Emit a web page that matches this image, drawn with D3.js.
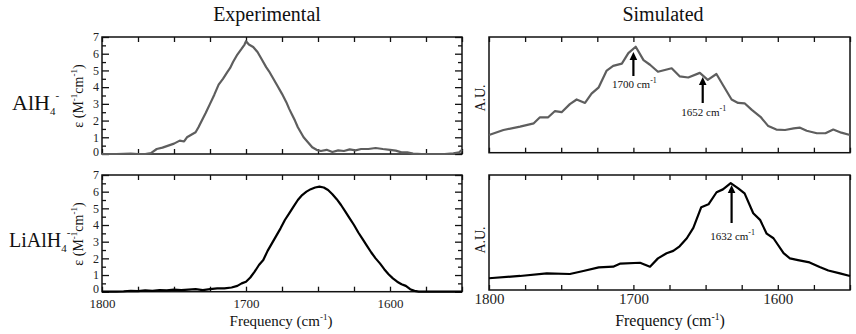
<!DOCTYPE html>
<html><head><meta charset="utf-8">
<script src="https://cdn.jsdelivr.net/npm/d3@7"></script>
<style>
html,body{margin:0;padding:0;background:#fff;}
svg{display:block;}
svg text{font-family:"Liberation Serif","DejaVu Serif",serif;}
</style></head>
<body><svg id="c" width="856" height="334"></svg>
<script>
// ---------- data ----------
const xTicks = [1800, 1700, 1600];
const expYTicks = [0,1,2,3,4,5,6,7];

const expAlH4Freq = [1800,1790,1780,1775,1770,1766,1762,1758,1754,1750,1746,1743,1741,1738,1735,1733,1731,1728,1725,1722,1719,1716,1713,1711,1709,1706,1703,1701,1700,1698,1695,1692,1689,1686,1684,1681,1678,1675,1672,1670,1668,1666,1664,1662,1660,1657,1654,1651,1648,1644,1640,1636,1632,1628,1624,1620,1615,1610,1605,1600,1596,1592,1588,1584,1578,1570,1562,1556,1552,1550];
const expAlH4Val  = [0,0,0.03,0,0,0.05,0.3,0.38,0.5,0.62,0.8,0.75,1.0,1.15,1.3,1.6,1.95,2.45,3.0,3.55,4.15,4.5,4.9,5.15,5.5,5.95,6.3,6.55,6.75,6.55,6.4,6.1,5.65,5.2,4.95,4.5,4.05,3.6,3.1,2.7,2.35,2.0,1.6,1.3,1.0,0.7,0.4,0.25,0.18,0.25,0.12,0.22,0.18,0.28,0.22,0.3,0.3,0.36,0.3,0.25,0.2,0.1,0.1,0.02,0,0,0,0.04,0.1,0.25];

const expLiFreq = [1800,1790,1785,1780,1775,1770,1765,1760,1755,1750,1745,1740,1735,1730,1725,1720,1715,1710,1706,1703,1700,1697,1694,1691,1688,1685,1682,1679,1676,1673,1670,1667,1664,1661,1658,1655,1652,1649,1646,1643,1640,1637,1634,1631,1628,1625,1622,1619,1616,1613,1610,1607,1604,1601,1598,1595,1592,1589,1586,1583,1580,1550];
const expLiVal  = [0,0,0.02,0.05,0.03,0.08,0.05,0.1,0.08,0.12,0.1,0.13,0.15,0.1,0.15,0.2,0.2,0.25,0.35,0.5,0.6,0.85,1.2,1.6,1.9,2.45,2.9,3.35,3.8,4.3,4.7,5.1,5.5,5.8,6.0,6.15,6.25,6.3,6.25,6.1,5.85,5.55,5.2,4.8,4.4,4.0,3.55,3.15,2.75,2.35,2.0,1.7,1.35,1.05,0.8,0.6,0.45,0.35,0.15,0.05,0,0];

const simAlH4Freq = [1800,1790,1778.5,1769,1764.7,1759,1754.3,1749.7,1744,1739.3,1733.5,1729,1724,1718.5,1714,1708,1703.5,1698.4,1693,1688.5,1683,1673.5,1668,1662,1654,1648.5,1642.5,1638,1632,1627.5,1623,1618,1612,1606.6,1601,1595,1589,1584.6,1580,1573,1567,1561.6,1556,1550];
const simAlH4Val  = [1.53,1.96,2.25,2.54,3.06,3.06,3.6,3.5,4.2,4.6,4.3,5.1,5.65,7.1,7.5,7.7,8.6,9.16,8.0,7.6,7.0,7.3,6.6,6.5,6.9,6.3,6.8,5.85,4.6,4.3,4.27,3.7,3.1,2.3,2.0,1.96,2.1,2.16,1.9,1.68,1.68,2.0,1.73,1.53];

const simLiFreq = [1800,1778.5,1760,1744,1734.7,1724,1714,1709,1695.4,1688.5,1683,1677,1672.4,1668,1663,1658.5,1653,1648,1642.4,1638,1632.6,1627.4,1623,1617,1612.3,1607.7,1603,1596,1591.6,1586,1578,1571,1565,1557,1550];
const simLiVal  = [1.02,1.22,1.45,1.39,1.65,1.97,2.03,2.3,2.37,2.03,2.75,3.2,3.4,3.8,4.5,5.4,7.2,7.45,8.5,8.75,9.3,8.84,8.4,6.67,6.1,4.9,4.5,3.2,2.75,2.6,2.4,2.0,1.7,1.45,1.22];

const simAlH4Peaks = [{f:1700, label:"1700"}, {f:1652, label:"1652"}];
const simLiPeaks = [{f:1632, label:"1632"}];

// ---------- drawing ----------
const svg = d3.select("#c");
const serif = '"Liberation Serif","DejaVu Serif",serif';

function panel(o){
  const g = svg.append("g");
  const x = d3.scaleLinear().domain([1800,1550]).range([o.x0,o.x1]);
  const y = d3.scaleLinear().domain(o.yDomain).range([o.y1,o.y0]);
  const minor = d3.range(1800,1549,-25);
  g.append("g").attr("transform",`translate(0,${o.y1})`).call(d3.axisBottom(x).tickValues(minor).tickSize(-5).tickFormat(""));
  g.append("g").attr("transform",`translate(0,${o.y0})`).call(d3.axisTop(x).tickValues(minor).tickSize(-5).tickFormat(""));
  if(o.yTicks){
    const halfs = d3.range(0.5,7,1);
    g.append("g").attr("class","ylab").attr("transform",`translate(${o.x0},0)`).call(d3.axisLeft(y).tickValues(o.yTicks).tickSize(-7).tickPadding(3).tickFormat(d3.format("d")));
    g.append("g").attr("transform",`translate(${o.x0},0)`).call(d3.axisLeft(y).tickValues(halfs).tickSize(-4).tickFormat(""));
    g.append("g").attr("transform",`translate(${o.x1},0)`).call(d3.axisRight(y).tickValues(o.yTicks).tickSize(-7).tickFormat(""));
    g.append("g").attr("transform",`translate(${o.x1},0)`).call(d3.axisRight(y).tickValues(halfs).tickSize(-4).tickFormat(""));
  }
  if(o.xLabels){
    g.append("g").attr("class","xlab").attr("transform",`translate(0,${o.y1})`)
      .call(d3.axisBottom(x).tickValues(xTicks).tickSize(0).tickPadding(o.xLabPad).tickFormat(d3.format("d")));
  }
  g.selectAll(".domain").remove();
  g.selectAll("g").attr("font-family",serif);
  g.selectAll(".tick line").attr("stroke","#111").attr("stroke-width",1.3);
  g.selectAll(".tick text").attr("font-family",serif).attr("fill","#222");
  g.selectAll(".ylab text").attr("font-size",12);
  g.selectAll(".ylab .tick text").filter(d=>d===0).attr("dy","0.1em");
  g.selectAll(".xlab text").attr("font-size",o.xLabSize);
  g.append("rect").attr("x",o.x0).attr("y",o.y0).attr("width",o.x1-o.x0).attr("height",o.y1-o.y0)
    .attr("fill","none").attr("stroke","#111").attr("stroke-width",1.5);
  const pts = o.freq.map((f,i)=>[f,o.val[i]]);
  g.append("path").datum(pts)
    .attr("d", d3.line().x(d=>x(d[0])).y(d=>y(d[1])))
    .attr("fill","none").attr("stroke",o.color).attr("stroke-width",2.2).attr("stroke-linejoin","round");
  return {g,x,y};
}

const tl = panel({x0:102,x1:462,y0:37,y1:154,yDomain:[0,7],yTicks:expYTicks,freq:expAlH4Freq,val:expAlH4Val,color:"#5e5e5e"});
const bl = panel({x0:102,x1:462,y0:175,y1:291.7,yDomain:[0,7],yTicks:expYTicks,freq:expLiFreq,val:expLiVal,color:"#000",xLabels:true,xLabSize:13,xLabPad:7});
const tr = panel({x0:489,x1:850,y0:37,y1:152.7,yDomain:[0,10],freq:simAlH4Freq,val:simAlH4Val,color:"#5e5e5e"});
const br = panel({x0:489,x1:850,y0:175,y1:290,yDomain:[0,10],freq:simLiFreq,val:simLiVal,color:"#000",xLabels:true,xLabSize:15,xLabPad:3});

function arrows(p, peaks, specs){
  peaks.forEach((pk,i)=>{
    const s = specs[i];
    const ax = p.x(pk.f);
    p.g.append("line").attr("x1",ax).attr("x2",ax).attr("y1",s.y2).attr("y2",s.y1+6)
      .attr("stroke","#000").attr("stroke-width",2.2);
    p.g.append("path").attr("d",`M${ax},${s.y1} L${ax+3.8},${s.y1+8} L${ax-3.8},${s.y1+8} Z`).attr("fill","#000");
    const t = p.g.append("text").attr("x",ax+1).attr("y",s.ty).attr("text-anchor","middle")
      .attr("font-size",11).attr("font-family",serif).attr("fill","#111");
    t.append("tspan").text(pk.label+" cm");
    t.append("tspan").attr("dy",-5).attr("font-size",8).text("-1");
  });
}
arrows(tr, simAlH4Peaks, [{y1:52,y2:76,ty:88},{y1:77,y2:103,ty:116}]);
arrows(br, simLiPeaks, [{y1:185,y2:223,ty:240}]);

function txt(x,y,size,anchor){
  return svg.append("text").attr("x",x).attr("y",y).attr("text-anchor",anchor||"start")
    .attr("font-size",size).attr("font-family",serif).attr("fill","#111");
}
txt(267,21,20,"middle").text("Experimental");
txt(663,21,20,"middle").text("Simulated");

function rowLabel(x,y,base,size){
  const t = txt(x,y,size);
  t.append("tspan").text(base);
  t.append("tspan").attr("font-size",11).attr("dy",5).text("4");
  t.append("tspan").attr("font-size",11).attr("dy",-16).text("-");
}
rowLabel(12,110,"AlH",22);
rowLabel(9,247,"LiAlH",20);

function epsLabel(cx,cy){
  const t = svg.append("text").attr("transform",`translate(${cx},${cy}) rotate(-90)`).attr("text-anchor","middle")
    .attr("font-size",14).attr("font-family",serif).attr("fill","#111");
  t.append("tspan").text("ε (M");
  t.append("tspan").attr("font-size",9).attr("dy",-6).text("-1");
  t.append("tspan").attr("dy",6).text("cm");
  t.append("tspan").attr("font-size",9).attr("dy",-6).text("-1");
  t.append("tspan").attr("dy",6).text(")");
}
epsLabel(83,96);
epsLabel(83,234);
function auLabel(cx,cy){
  svg.append("text").attr("transform",`translate(${cx},${cy}) rotate(-90)`).attr("text-anchor","middle")
    .attr("font-size",14).attr("font-family",serif).attr("fill","#111").text("A.U.");
}
auLabel(485,98);
auLabel(485,240);

function freqLabel(cx,y,size){
  const t = txt(cx,y,size,"middle");
  t.append("tspan").text("Frequency (cm");
  t.append("tspan").attr("font-size",size*0.6).attr("dy",-6).text("-1");
  t.append("tspan").attr("dy",6).text(")");
}
freqLabel(281,326,15);
freqLabel(670,326,16);
</script></body></html>
